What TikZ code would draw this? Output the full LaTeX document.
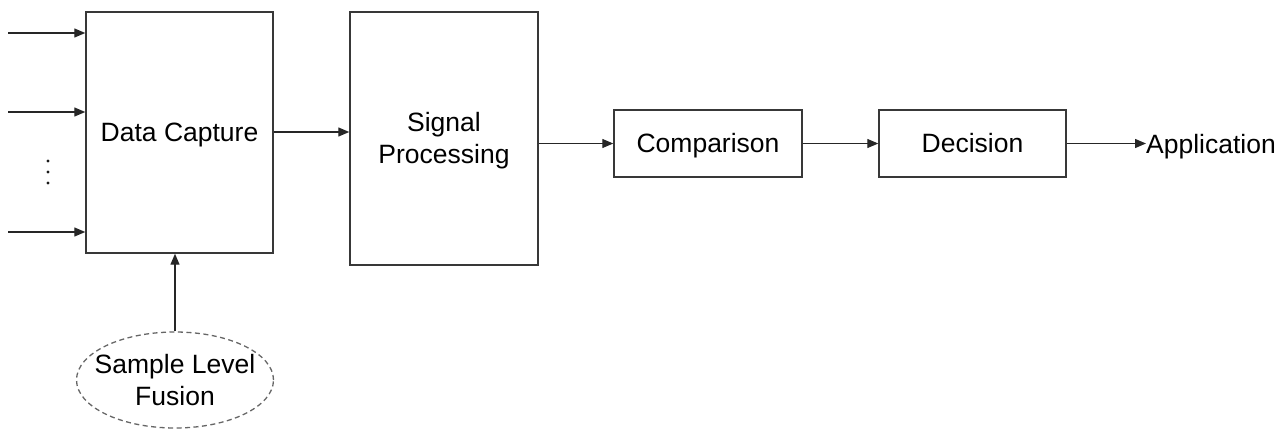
\documentclass[tikz,border=0pt]{standalone}
\usepackage{fontspec}
\setmainfont{Liberation Sans}
\usetikzlibrary{arrows.meta,shapes.geometric}
\begin{document}
\begin{tikzpicture}[x=1pt,y=-1pt,
  txt/.style={font=\fontsize{26.5}{32}\selectfont},
  block/.style={draw=black!78,line width=1.4pt,inner sep=0pt,txt,align=center,
    text height=19pt,text depth=1pt},
  conn/.style={draw=black!85,line width=1.3pt,-{Triangle[length=11pt,width=9pt]}},
  lbl/.style={txt,inner sep=0pt}]
\useasboundingbox (0,0) rectangle (1277,429);
% processing blocks
\node[block,minimum width=187pt,minimum height=241pt] (cap) at (179.5,132.5) {Data Capture};
\node[block,minimum width=188pt,minimum height=253pt] (sig) at (444,138.5) {};
\node[lbl,align=center] (sigtxt) at (444,141) {Signal\\Processing};
\node[block,minimum width=188pt,minimum height=67pt] (cmp) at (708,143.5) {Comparison};
\node[block,minimum width=187pt,minimum height=67pt] (dec) at (972.5,143.5) {Decision};
\node[lbl,anchor=west] (app) at (1146,147) {Application};
% fusion ellipse
\node[ellipse,draw=black!60,line width=1.3pt,dash pattern=on 5pt off 3.5pt,
  minimum width=197pt,minimum height=96pt,inner xsep=-11pt,inner ysep=0pt,align=center,
  txt] (fus) at (175,380) {Sample Level\\Fusion};
% sensor inputs
\coordinate (in1) at (8,33);
\coordinate (in2) at (8,112);
\coordinate (in3) at (8,232);
\draw[conn] (in1) -- (cap.west |- in1);
\draw[conn] (in2) -- (cap.west |- in2);
\draw[conn] (in3) -- (cap.west |- in3);
% vertical ellipsis between the inputs
\foreach \y in {161,172,183} \fill[black!90] (48,\y) circle (1.7pt);
% chain
\draw[conn] (cap.east |- 0,132) -- (sig.west |- 0,132);
\draw[conn] (sig.east |- cmp.west) -- (cmp.west);
\draw[conn] (cmp) -- (dec);
\draw[conn] (dec.east) -- (app.west |- dec.east);
\draw[conn] (fus.north) -- (cap.south -| fus.north);
\end{tikzpicture}
\end{document}
